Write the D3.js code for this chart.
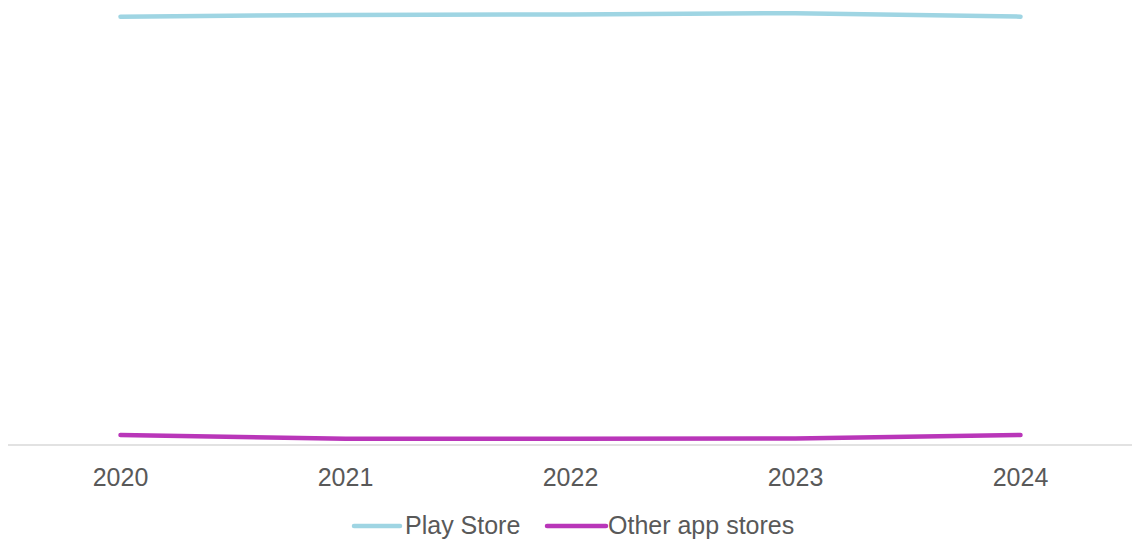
<!DOCTYPE html>
<html><head><meta charset="utf-8">
<script src="https://cdn.jsdelivr.net/npm/d3@7"></script>
<style>html,body{margin:0;padding:0;background:#fff;}svg{display:block;}</style>
</head><body>
<script>
const years = ["2020","2021","2022","2023","2024"];
const playStore = [97.8, 98.2, 98.3, 98.6, 97.8];
const otherStores = [2.3, 1.45, 1.45, 1.5, 2.3];
const seriesNames = ["Play Store", "Other app stores"];
const seriesColors = ["#9fd5e3", "#b936b9"];

const W = 1132, H = 540;
const svg = d3.select("body").append("svg").attr("width", W).attr("height", H);
const x = d3.scaleBand().domain(years).range([8, 1133]);
const y = d3.scaleLinear().domain([0, 100]).range([445, 7]);

// baseline axis
const xAxis = svg.append("g").attr("transform", "translate(0,445)")
  .call(d3.axisBottom(x).tickSize(0).tickPadding(23));
xAxis.select(".domain").attr("stroke", "#d9d9d9").attr("stroke-width", 1.5)
  .attr("d", "M8,0H1132");
xAxis.selectAll("text").attr("font-family", "Liberation Sans, Arial, sans-serif")
  .attr("font-size", 25).attr("fill", "#595959");

const line = d3.line().x((d, i) => x(years[i]) + x.bandwidth() / 2).y(d => y(d));
[playStore, otherStores].forEach((s, k) => {
  svg.append("path").datum(s).attr("d", line).attr("fill", "none")
    .attr("stroke", seriesColors[k]).attr("stroke-width", 4.5)
    .attr("stroke-linecap", "round").attr("stroke-linejoin", "round");
});

// legend
const legend = [{x: 354, tx: 405}, {x: 547, tx: 608}];
const lw = [46, 59];
seriesNames.forEach((n, k) => {
  svg.append("line").attr("x1", legend[k].x).attr("x2", legend[k].x + lw[k])
    .attr("y1", 526).attr("y2", 526).attr("stroke", seriesColors[k])
    .attr("stroke-width", 4.5).attr("stroke-linecap", "round");
  svg.append("text").attr("x", legend[k].tx).attr("y", 534)
    .attr("font-family", "Liberation Sans, Arial, sans-serif").attr("font-size", 25)
    .attr("fill", "#595959").text(n);
});
</script>
</body></html>
